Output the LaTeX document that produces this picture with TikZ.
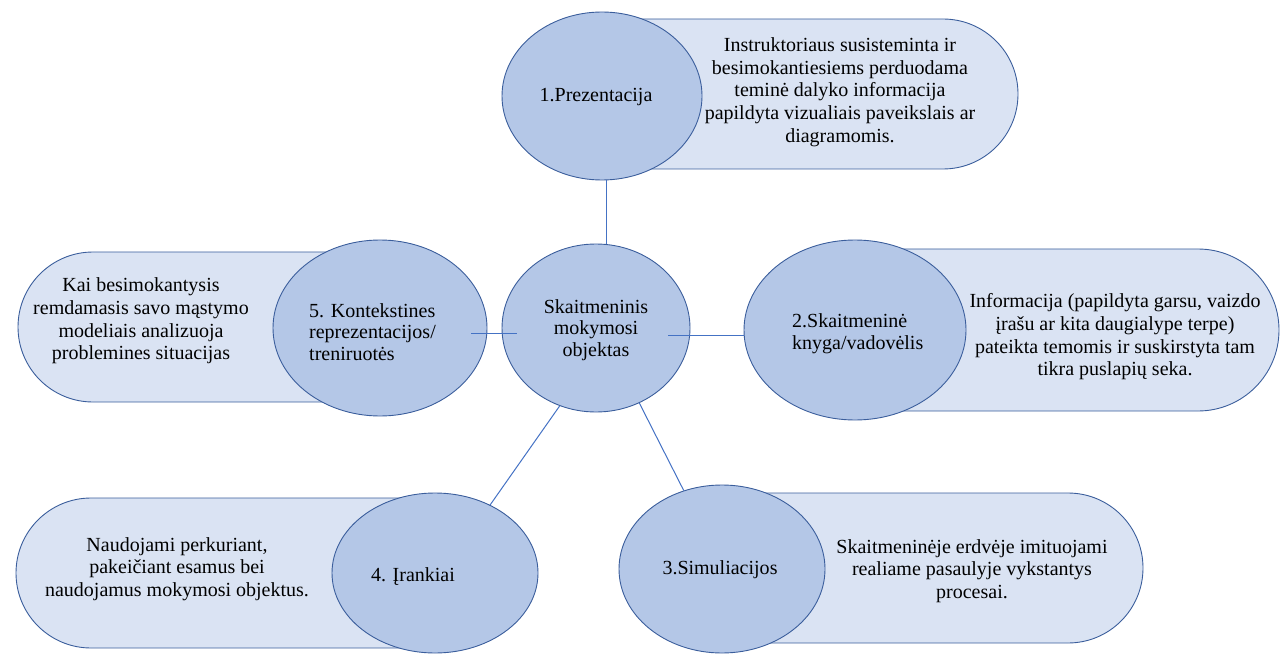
\documentclass[tikz,border=0pt]{standalone}
\usepackage{fontspec}
\setmainfont{Liberation Serif}
\usetikzlibrary{shapes.geometric,calc}
\definecolor{circfill}{HTML}{B4C7E7}
\definecolor{pillfill}{HTML}{DAE3F3}
\definecolor{edgeblue}{HTML}{3B5E9C}
\definecolor{connblue}{HTML}{4472C4}
\begin{document}
\begin{tikzpicture}[x=1pt,y=1pt,
  circ/.style={ellipse, draw=edgeblue, fill=circfill, line width=0.9pt, inner sep=0pt},
  pill/.style={draw=edgeblue, fill=pillfill, line width=0.9pt},
  conn/.style={draw=connblue, line width=1pt},
  ctxt/.style={inner sep=0pt, align=center, font=\fontsize{20}{21.7}\selectfont},
  ptxt/.style={inner sep=0pt, align=center, font=\fontsize{20}{22.7}\selectfont}]
\useasboundingbox (0,0) rectangle (1284,657);
% pills
\path[pill] (638,638) -- (943,638) arc[start angle=90,end angle=-90,radius=75] -- (638,488) -- cycle;
\path[pill] (898,408) -- (1198,408) arc[start angle=90,end angle=-90,radius=81] -- (898,246) -- cycle;
\path[pill] (760,164) -- (1068,164) arc[start angle=90,end angle=-90,radius=75] -- (760,14) -- cycle;
\path[pill] (400,159) -- (91,159) arc[start angle=90,end angle=270,radius=75] -- (400,9) -- cycle;
\path[pill] (330,405) -- (93,405) arc[start angle=90,end angle=270,radius=75] -- (330,255) -- cycle;
% circles
\node[circ, minimum width=200pt, minimum height=168pt] (c1) at (602,561) {};
\node[circ, minimum width=188pt, minimum height=168pt] (c0) at (596,329) {};
\node[circ, minimum width=214pt, minimum height=176pt] (c5) at (380,329) {};
\node[circ, minimum width=222pt, minimum height=180pt] (c2) at (855,327) {};
\node[circ, minimum width=206pt, minimum height=168pt] (c3) at (722,88) {};
\node[circ, minimum width=206pt, minimum height=160pt] (c4) at (435,84) {};
% connectors
\coordinate (xa) at (606,0);
\draw[conn] (c1.south -| xa) -- (c0.north -| xa);
\draw[conn] ($(c5.east)+(-16,-5)$) -- ($(c0.west)+(15,-5)$);
\draw[conn] ($(c0.east)+(-22,-7)$) -- ($(c2.west)+(0,-5)$);
\draw[conn] (c0.245) -- (c4.51);
\draw[conn] (c0.300) -- (c3.116);
% circle texts
\node[ctxt] (t1) at (596,560) {1.Prezentacija};
\node[ctxt] (t0) at (596,327) {Skaitmeninis\\mokymosi\\objektas};
\node[ctxt, anchor=west, align=left] (t5) at (309,325) {5. Kontekstines\\reprezentacijos/\\treniruotės};
\node[ctxt, anchor=west, align=left] (t2) at (792,323) {2.Skaitmeninė\\knyga/vadovėlis};
\node[ctxt] (t3) at (720,87) {3.Simuliacijos};
\node[ctxt] (t4) at (413,80) {4. Įrankiai};
% pill texts
\node[ptxt] (d1) at (840,565) {Instruktoriaus susisteminta ir\\besimokantiesiems perduodama\\teminė dalyko informacija\\papildyta vizualiais paveikslais ar\\diagramomis.};
\node[ptxt] (d2) at (1115,320) {Informacija (papildyta garsu, vaizdo\\įrašu ar kita daugialype terpe)\\pateikta temomis ir suskirstyta tam\\tikra puslapių seka.};
\node[ptxt] (d3) at (972,86) {Skaitmeninėje erdvėje imituojami\\realiame pasaulyje vykstantys\\procesai.};
\node[ptxt] (d4) at (177,88) {Naudojami perkuriant,\\pakeičiant esamus bei\\naudojamus mokymosi objektus.};
\node[ptxt] (d5) at (141,336) {Kai besimokantysis\\remdamasis savo mąstymo\\modeliais analizuoja\\problemines situacijas};
\end{tikzpicture}
\end{document}
